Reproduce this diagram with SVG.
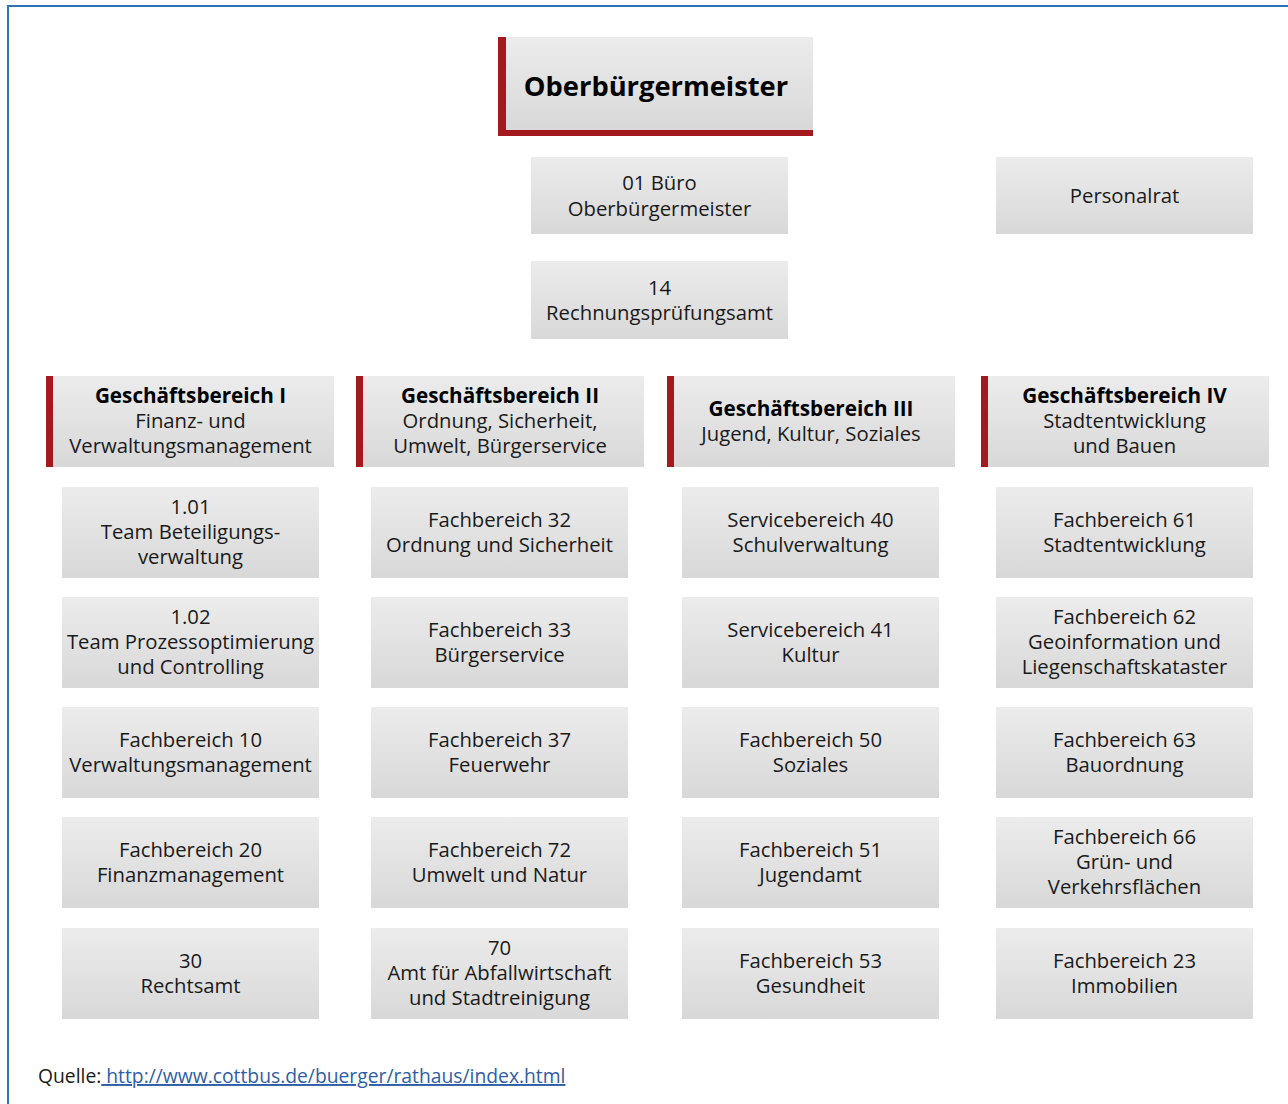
<svg xmlns="http://www.w3.org/2000/svg" width="1288" height="1104" viewBox="0 0 1288 1104">
<defs>
<linearGradient id="g" x1="0" y1="0" x2="0" y2="1">
<stop offset="0" stop-color="#ececec"/>
<stop offset="1" stop-color="#d8d8d8"/>
</linearGradient>
<style>
.b{fill:url(#g)}
.r{fill:#a3191e}
text{font-family:"Open Sans","Noto Sans","Liberation Sans",sans-serif;font-size:20.3px;fill:#1a1a1a;text-anchor:middle}
.h{font-weight:bold;fill:#000;font-size:20.7px}
.t{font-size:27.3px;font-weight:bold;fill:#000}
.q{text-anchor:start;font-size:19.3px}
.l{fill:#2f5ea8;text-decoration:underline}
</style>
</defs>
<rect width="1288" height="1104" fill="#fff"/>
<path d="M8,1104 V6 H1288" fill="none" stroke="#2e75b6" stroke-width="2"/>

<g id="ob">
<rect class="r" x="498" y="37" width="315" height="99"/>
<rect class="b" x="506" y="37" width="307" height="93"/>
<text class="t" x="656" y="96">Oberbürgermeister</text>
</g>
<g id="buero">
<rect class="b" x="531" y="157" width="257" height="77"/>
<text x="659.5" y="190">01 Büro</text>
<text x="659.5" y="216">Oberbürgermeister</text>
</g>
<g id="personalrat">
<rect class="b" x="996" y="157" width="257" height="77"/>
<text x="1124.5" y="203">Personalrat</text>
</g>
<g id="rpa">
<rect class="b" x="531" y="261" width="257" height="78"/>
<text x="659.5" y="295">14</text>
<text x="659.5" y="320">Rechnungsprüfungsamt</text>
</g>

<g id="gb1">
<rect class="r" x="46" y="376" width="8" height="91"/>
<rect class="b" x="53" y="376" width="281" height="91"/>
<text class="h" x="190.5" y="403">Geschäftsbereich I</text>
<text x="190.5" y="428">Finanz- und</text>
<text x="190.5" y="453">Verwaltungsmanagement</text>
</g>
<g id="gb2">
<rect class="r" x="356" y="376" width="8" height="91"/>
<rect class="b" x="363" y="376" width="281" height="91"/>
<text class="h" x="500" y="403">Geschäftsbereich II</text>
<text x="500" y="428">Ordnung, Sicherheit,</text>
<text x="500" y="453">Umwelt, Bürgerservice</text>
</g>
<g id="gb3">
<rect class="r" x="667" y="376" width="8" height="91"/>
<rect class="b" x="674" y="376" width="281" height="91"/>
<text class="h" x="811" y="416">Geschäftsbereich III</text>
<text x="811" y="441">Jugend, Kultur, Soziales</text>
</g>
<g id="gb4">
<rect class="r" x="981" y="376" width="8" height="91"/>
<rect class="b" x="988" y="376" width="281" height="91"/>
<text class="h" x="1124.5" y="403">Geschäftsbereich IV</text>
<text x="1124.5" y="428">Stadtentwicklung</text>
<text x="1124.5" y="453">und Bauen</text>
</g>

<g id="n101"><rect class="b" x="62" y="487" width="257" height="91"/>
<text x="190.5" y="514">1.01</text><text x="190.5" y="539">Team Beteiligungs-</text><text x="190.5" y="564">verwaltung</text></g>
<g id="n102"><rect class="b" x="62" y="597" width="257" height="91"/>
<text x="190.5" y="624">1.02</text><text x="190.5" y="649">Team Prozessoptimierung</text><text x="190.5" y="674">und Controlling</text></g>
<g id="fb10"><rect class="b" x="62" y="707" width="257" height="91"/>
<text x="190.5" y="747">Fachbereich 10</text><text x="190.5" y="772">Verwaltungsmanagement</text></g>
<g id="fb20"><rect class="b" x="62" y="817" width="257" height="91"/>
<text x="190.5" y="857">Fachbereich 20</text><text x="190.5" y="882">Finanzmanagement</text></g>
<g id="a30"><rect class="b" x="62" y="928" width="257" height="91"/>
<text x="190.5" y="968">30</text><text x="190.5" y="993">Rechtsamt</text></g>

<g id="fb32"><rect class="b" x="371" y="487" width="257" height="91"/>
<text x="499.5" y="527">Fachbereich 32</text><text x="499.5" y="552">Ordnung und Sicherheit</text></g>
<g id="fb33"><rect class="b" x="371" y="597" width="257" height="91"/>
<text x="499.5" y="637">Fachbereich 33</text><text x="499.5" y="662">Bürgerservice</text></g>
<g id="fb37"><rect class="b" x="371" y="707" width="257" height="91"/>
<text x="499.5" y="747">Fachbereich 37</text><text x="499.5" y="772">Feuerwehr</text></g>
<g id="fb72"><rect class="b" x="371" y="817" width="257" height="91"/>
<text x="499.5" y="857">Fachbereich 72</text><text x="499.5" y="882">Umwelt und Natur</text></g>
<g id="a70"><rect class="b" x="371" y="928" width="257" height="91"/>
<text x="499.5" y="955">70</text><text x="499.5" y="980">Amt für Abfallwirtschaft</text><text x="499.5" y="1005">und Stadtreinigung</text></g>

<g id="sb40"><rect class="b" x="682" y="487" width="257" height="91"/>
<text x="810.5" y="527">Servicebereich 40</text><text x="810.5" y="552">Schulverwaltung</text></g>
<g id="sb41"><rect class="b" x="682" y="597" width="257" height="91"/>
<text x="810.5" y="637">Servicebereich 41</text><text x="810.5" y="662">Kultur</text></g>
<g id="fb50"><rect class="b" x="682" y="707" width="257" height="91"/>
<text x="810.5" y="747">Fachbereich 50</text><text x="810.5" y="772">Soziales</text></g>
<g id="fb51"><rect class="b" x="682" y="817" width="257" height="91"/>
<text x="810.5" y="857">Fachbereich 51</text><text x="810.5" y="882">Jugendamt</text></g>
<g id="fb53"><rect class="b" x="682" y="928" width="257" height="91"/>
<text x="810.5" y="968">Fachbereich 53</text><text x="810.5" y="993">Gesundheit</text></g>

<g id="fb61"><rect class="b" x="996" y="487" width="257" height="91"/>
<text x="1124.5" y="527">Fachbereich 61</text><text x="1124.5" y="552">Stadtentwicklung</text></g>
<g id="fb62"><rect class="b" x="996" y="597" width="257" height="91"/>
<text x="1124.5" y="624">Fachbereich 62</text><text x="1124.5" y="649">Geoinformation und</text><text x="1124.5" y="674">Liegenschaftskataster</text></g>
<g id="fb63"><rect class="b" x="996" y="707" width="257" height="91"/>
<text x="1124.5" y="747">Fachbereich 63</text><text x="1124.5" y="772">Bauordnung</text></g>
<g id="fb66"><rect class="b" x="996" y="817" width="257" height="91"/>
<text x="1124.5" y="844">Fachbereich 66</text><text x="1124.5" y="869">Grün- und</text><text x="1124.5" y="894">Verkehrsflächen</text></g>
<g id="fb23"><rect class="b" x="996" y="928" width="257" height="91"/>
<text x="1124.5" y="968">Fachbereich 23</text><text x="1124.5" y="993">Immobilien</text></g>

<g id="connectors"></g>

<text class="q" x="38" y="1083">Quelle:<tspan class="l"> http://www.cottbus.de/buerger/rathaus/index.html</tspan></text>
</svg>
